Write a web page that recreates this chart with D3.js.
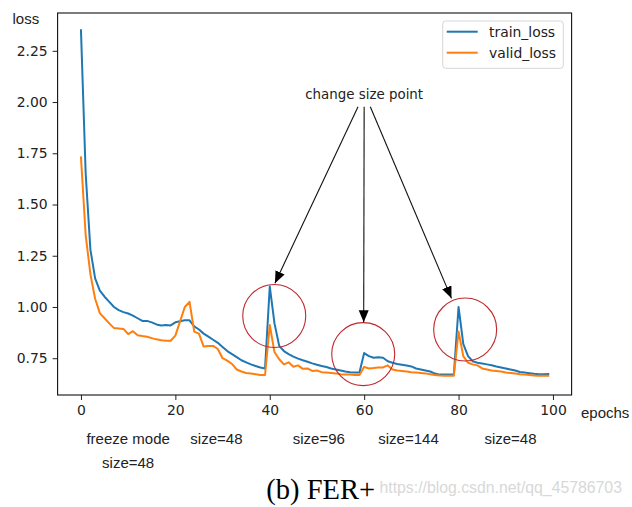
<!DOCTYPE html>
<html>
<head>
<meta charset="utf-8">
<script src="https://cdn.jsdelivr.net/npm/d3@7"></script>
<style>
  html, body { margin: 0; padding: 0; background: #fff; }
  svg { display: block; }
</style>
</head>
<body>
<svg id="chart" width="632" height="507"></svg>
<script>
// ---------------- data ----------------
const epochs = d3.range(0, 100);

const trainLoss = [
  2.35, 1.65, 1.28, 1.14, 1.08, 1.05, 1.025, 1.00, 0.985, 0.975,
  0.968, 0.958, 0.945, 0.932, 0.932, 0.925, 0.915, 0.91, 0.912, 0.91,
  0.925, 0.93, 0.935, 0.935, 0.905, 0.89, 0.87, 0.855, 0.84, 0.825,
  0.805, 0.785, 0.77, 0.755, 0.74, 0.73, 0.72, 0.712, 0.705, 0.70,
  1.10, 0.92, 0.81, 0.785, 0.77, 0.758, 0.748, 0.74, 0.733, 0.725,
  0.718, 0.712, 0.707, 0.70, 0.695, 0.69, 0.685, 0.682, 0.68, 0.68,
  0.775, 0.76, 0.752, 0.755, 0.752, 0.735, 0.728, 0.722, 0.718, 0.714,
  0.71, 0.70, 0.695, 0.69, 0.685, 0.675, 0.67, 0.67, 0.67, 0.67,
  1.00, 0.82, 0.76, 0.735, 0.728, 0.724, 0.72, 0.716, 0.71, 0.705,
  0.70, 0.695, 0.69, 0.683, 0.68, 0.677, 0.674, 0.672, 0.672, 0.673
];

const validLoss = [
  1.73, 1.35, 1.16, 1.04, 0.97, 0.945, 0.92, 0.897, 0.895, 0.893,
  0.868, 0.882, 0.862, 0.858, 0.855, 0.848, 0.842, 0.838, 0.835, 0.835,
  0.86, 0.93, 1.00, 1.025, 0.88, 0.87, 0.807, 0.81, 0.81, 0.795,
  0.75, 0.738, 0.722, 0.695, 0.685, 0.678, 0.675, 0.672, 0.668, 0.668,
  0.912, 0.78, 0.745, 0.72, 0.73, 0.708, 0.715, 0.698, 0.70, 0.688,
  0.69, 0.682, 0.68, 0.678, 0.676, 0.672, 0.67, 0.67, 0.668, 0.668,
  0.708, 0.70, 0.702, 0.705, 0.705, 0.715, 0.695, 0.69, 0.688, 0.685,
  0.682, 0.68, 0.678, 0.676, 0.672, 0.668, 0.666, 0.665, 0.665, 0.665,
  0.88, 0.76, 0.728, 0.72, 0.715, 0.70, 0.695, 0.69, 0.688, 0.685,
  0.68, 0.678, 0.675, 0.672, 0.67, 0.668, 0.666, 0.665, 0.665, 0.665
];

const seriesNames = ["train_loss", "valid_loss"];
const xTicks = [0, 20, 40, 60, 80, 100];
const yTicks = [0.75, 1.00, 1.25, 1.50, 1.75, 2.00, 2.25];

// annotation (data coordinates)
const annotationText = "change size point";
const annotationAnchor = [60, 2.04];
const arrowStarts = [[58.7, 1.977], [60.0, 1.977], [61.3, 1.977]];
const arrowTips = [[41.1, 1.116], [59.9, 0.925], [78.5, 1.042]];
const circleCenters = [[40.95, 0.956], [59.8, 0.770], [81.4, 0.890]];

const stageLabels = ["freeze mode", "size=48", "size=96", "size=144", "size=48"];
const stageEpochs = [10, 28.7, 50.4, 69.4, 91];
const stageSubLabel = "size=48";
const caption = "(b) FER+";
const watermark = "https://blog.csdn.net/qq_45786703";

// ---------------- chart ----------------
const svg = d3.select("#chart");
svg.append("rect").attr("width", 632).attr("height", 507).attr("fill", "#fff");

const pL = 57.6, pR = 571.6, pT = 13, pB = 395;
const x = d3.scaleLinear().domain([-4.95, 103.95]).range([pL, pR]);
const y = d3.scaleLinear().domain([0.5705, 2.4345]).range([pB, pT]);

const colors = ["#1f77b4", "#ff7f0e"];
const tickFont = "'DejaVu Sans', sans-serif";
const sideFont = "'Liberation Sans', Arial, sans-serif";

// axes
const xAxis = d3.axisBottom(x).tickValues(xTicks).tickFormat(d3.format("d")).tickSize(5).tickPadding(5);
const yAxis = d3.axisLeft(y).tickValues(yTicks).tickFormat(d3.format(".2f")).tickSize(5).tickPadding(5);

const gx = svg.append("g").attr("transform", `translate(0,${pB})`).call(xAxis);
const gy = svg.append("g").attr("transform", `translate(${pL},0)`).call(yAxis);
[gx, gy].forEach(g => {
  g.select(".domain").remove();
  g.selectAll("line").attr("stroke", "#222").attr("stroke-width", 1);
  g.selectAll("text").attr("fill", "#222").attr("font-family", tickFont).attr("font-size", 13.9);
});

// lines
const line = d3.line().x((d, i) => x(epochs[i])).y(d => y(d));
svg.append("clipPath").attr("id", "plotclip")
  .append("rect").attr("x", pL).attr("y", pT).attr("width", pR - pL).attr("height", pB - pT);
const plot = svg.append("g").attr("clip-path", "url(#plotclip)");
[trainLoss, validLoss].forEach((s, k) => {
  plot.append("path").datum(s).attr("d", line)
    .attr("fill", "none").attr("stroke", colors[k]).attr("stroke-width", 2)
    .attr("stroke-linejoin", "round").attr("stroke-linecap", "square");
});

// circles
svg.append("g").selectAll("circle").data(circleCenters).join("circle")
  .attr("cx", d => x(d[0])).attr("cy", d => y(d[1])).attr("r", 31.5)
  .attr("fill", "none").attr("stroke", "#c0282d").attr("stroke-width", 1.1);

// frame
svg.append("rect").attr("x", pL).attr("y", pT).attr("width", pR - pL).attr("height", pB - pT)
  .attr("fill", "none").attr("stroke", "#111").attr("stroke-width", 1.1);

// arrows
svg.append("defs").append("marker").attr("id", "ah")
  .attr("markerUnits", "userSpaceOnUse").attr("markerWidth", 14).attr("markerHeight", 12)
  .attr("refX", 12).attr("refY", 5).attr("orient", "auto")
  .append("path").attr("d", "M0,0 L12,5 L0,10 Z").attr("fill", "#000");

svg.append("g").selectAll("line").data(arrowStarts).join("line")
  .attr("x1", d => x(d[0])).attr("y1", d => y(d[1]))
  .attr("x2", (d, i) => x(arrowTips[i][0])).attr("y2", (d, i) => y(arrowTips[i][1]))
  .attr("stroke", "#111").attr("stroke-width", 1.1).attr("marker-end", "url(#ah)");

svg.append("text").attr("x", x(annotationAnchor[0])).attr("y", y(annotationAnchor[1]))
  .attr("dy", "0.35em").attr("text-anchor", "middle")
  .attr("font-family", tickFont).attr("font-size", 13.4).attr("fill", "#222")
  .text(annotationText);

// legend
const lg = svg.append("g");
lg.append("rect").attr("x", 442.7).attr("y", 21).attr("width", 120.6).attr("height", 47.3)
  .attr("rx", 3).attr("fill", "#fff").attr("fill-opacity", 0.8).attr("stroke", "#d6d6d6");
seriesNames.forEach((n, k) => {
  const cy = 31.7 + k * 21;
  lg.append("line").attr("x1", 446.7).attr("x2", 477.7).attr("y1", cy).attr("y2", cy)
    .attr("stroke", colors[k]).attr("stroke-width", 2);
  lg.append("text").attr("x", 489).attr("y", cy).attr("dy", "0.35em")
    .attr("font-family", tickFont).attr("font-size", 13.9).attr("fill", "#222").text(n);
});

// side labels
svg.append("text").attr("x", 12.5).attr("y", 18.3).attr("dy", "0.35em")
  .attr("font-family", sideFont).attr("font-size", 15).attr("fill", "#222").text("loss");
svg.append("text").attr("x", 581).attr("y", 412.7).attr("dy", "0.35em")
  .attr("font-family", sideFont).attr("font-size", 15).attr("fill", "#222").text("epochs");

svg.append("g").selectAll("text").data(stageLabels).join("text")
  .attr("x", (d, i) => x(stageEpochs[i])).attr("y", 438.3).attr("dy", "0.35em")
  .attr("text-anchor", "middle").attr("font-family", sideFont).attr("font-size", 15).attr("fill", "#222")
  .text(d => d);
svg.append("text").attr("x", x(stageEpochs[0])).attr("y", 462.7).attr("dy", "0.35em")
  .attr("text-anchor", "middle").attr("font-family", sideFont).attr("font-size", 15).attr("fill", "#222")
  .text(stageSubLabel);

svg.append("text").attr("x", 266.3).attr("y", 488.7).attr("dy", "0.35em")
  .attr("font-family", "'Liberation Serif', 'Times New Roman', serif").attr("font-size", 28.5).attr("fill", "#000")
  .text(caption);
svg.append("text").attr("x", 379.5).attr("y", 487.7).attr("dy", "0.35em")
  .attr("font-family", sideFont).attr("font-size", 15.8).attr("fill", "#d8d8d8")
  .text(watermark);
</script>
</body>
</html>
